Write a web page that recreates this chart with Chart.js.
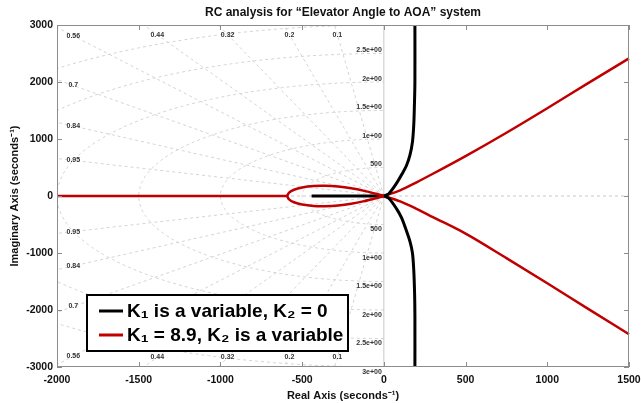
<!DOCTYPE html>
<html><head><meta charset="utf-8">
<script src="https://cdn.jsdelivr.net/npm/chart.js@4/dist/chart.umd.min.js"></script>
<style>html,body{margin:0;padding:0;background:#fff}#wrap{width:641px;height:403px;position:relative}</style>
</head><body><div id="wrap"><canvas id="c" width="641" height="403"></canvas></div>
<script>
// ---- data ----
const titleText = 'RC analysis for \u201cElevator Angle to AOA\u201d system';
const xTicks = [-2000,-1500,-1000,-500,0,500,1000,1500];
const yTicks = [-3000,-2000,-1000,0,1000,2000,3000];

// K1 is a variable, K2 = 0 (black)
const blackUpperRe = [0,30,78,110,139,160,175,183,187,190,190];
const blackUpperIm = [0,40,225,380,540,720,950,1250,1600,2000,3000];
const blackLowerRe = [0,30,78,108,135,160,175,183,188,190,190];
const blackLowerIm = [0,-40,-225,-380,-585,-800,-1000,-1300,-1700,-2100,-3000];
const blackRealRe = [-442,0];
const blackRealIm = [0,0];

// K1 = 8.9, K2 is a variable (red)
const redRealRe = [-2000,-592];
const redRealIm = [0,0];
const redLoopRe = [-592,-580,-550,-500,-430,-360,-280,-200,-120,-50,0];
const redLoopUpperIm = [0,60,110,150,175,178,165,135,90,40,0];
const redLoopLowerIm = [0,-60,-110,-150,-175,-178,-165,-135,-90,-40,0];
const redUpperRe = [0,100,200,300,500,750,1000,1250,1500];
const redUpperIm = [0,100,240,390,700,1110,1540,1980,2415];
const redLowerRe = [0,100,200,300,500,750,1000,1250,1500];
const redLowerIm = [0,-95,-225,-370,-660,-1090,-1530,-1980,-2425];

// s-grid
const dampingValues = [0.1,0.2,0.32,0.44,0.56,0.7,0.84,0.95];
const dampingLabels = ['0.1','0.2','0.32','0.44','0.56','0.7','0.84','0.95'];
const freqValues = [500,1000,1500,2000,2500,3000];
const freqLabels = ['500','1e+00','1.5e+00','2e+00','2.5e+00','3e+00'];

const legendLabels = ['K\u2081 is a variable, K\u2082 = 0','K\u2081 = 8.9, K\u2082 is a variable'];
const legendColors = ['#000000','#c00000'];

function pts(xs, ys){ return xs.map((x,i)=>({x:x,y:ys[i]})); }
function ds(xs, ys, color, w, mono){
  const d = {data:pts(xs,ys), showLine:true, borderColor:color, backgroundColor:color,
          borderWidth:w, pointRadius:0, fill:false, tension:0.3, clip:false};
  if (mono) d.cubicInterpolationMode = 'monotone';
  return d;
}

const FONT = "'Liberation Sans', Arial, sans-serif";

const sgridPlugin = {
  id:'sgrid',
  beforeDatasetsDraw(chart){
    const {ctx, chartArea:a, scales:{x, y}} = chart;
    const px = v=>x.getPixelForValue(v), py = v=>y.getPixelForValue(v);
    ctx.save();
    ctx.beginPath(); ctx.rect(a.left,a.top,a.right-a.left,a.bottom-a.top); ctx.clip();
    ctx.strokeStyle = '#d4d4d4'; ctx.lineWidth = 1; ctx.setLineDash([3,3]);
    dampingValues.forEach(z=>{
      const s = Math.sqrt(1-z*z), R = 8000;
      [1,-1].forEach(sg=>{
        ctx.beginPath(); ctx.moveTo(px(0),py(0)); ctx.lineTo(px(-z*R), py(sg*s*R)); ctx.stroke();
      });
    });
    freqValues.forEach(w=>{
      ctx.beginPath();
      for(let k=0;k<=180;k++){
        const th = (-90 + k)*Math.PI/180;
        const X = px(-w*Math.cos(th)), Y = py(w*Math.sin(th));
        if(k===0) ctx.moveTo(X,Y); else ctx.lineTo(X,Y);
      }
      ctx.stroke();
    });
    ctx.strokeStyle = '#c8c8c8';
    ctx.beginPath(); ctx.moveTo(a.left, py(0)); ctx.lineTo(a.right, py(0)); ctx.stroke();
    ctx.setLineDash([]);
    ctx.beginPath(); ctx.moveTo(px(0), a.top); ctx.lineTo(px(0), a.bottom); ctx.stroke();
    ctx.restore();
    ctx.save();
    ctx.fillStyle = '#333'; ctx.font = "bold 7px "+FONT;
    ctx.textAlign = 'center'; ctx.textBaseline = 'middle';
    dampingValues.forEach((z,i)=>{
      const s = Math.sqrt(1-z*z);
      const t = Math.min(2830/s, 1900/z);
      [1,-1].forEach(sg=>{
        ctx.fillText(dampingLabels[i], px(-z*t), py(sg*s*t));
      });
    });
    ctx.textAlign = 'right';
    freqValues.forEach((w,i)=>{
      if (w < 3000) ctx.fillText(freqLabels[i], px(0)-2, py(w)-3);
      ctx.fillText(freqLabels[i], px(0)-2, py(-w)+5);
    });
    ctx.restore();
  },
  afterDraw(chart){
    const {ctx, chartArea:a, scales:{x, y}} = chart;
    ctx.save();
    ctx.fillStyle = '#111'; ctx.font = "bold 12px "+FONT;
    ctx.textAlign = 'center'; ctx.textBaseline = 'middle';
    ctx.fillText(titleText, (a.left+a.right)/2, 13);
    ctx.strokeStyle = '#8c8c8c'; ctx.lineWidth = 1;
    ctx.strokeRect(a.left+0.5, a.top+0.5, a.right-a.left-1, a.bottom-a.top-1);
    xTicks.forEach(v=>{
      const X = Math.round(x.getPixelForValue(v))+0.5;
      ctx.beginPath(); ctx.moveTo(X,a.bottom); ctx.lineTo(X,a.bottom-5);
      ctx.moveTo(X,a.top); ctx.lineTo(X,a.top+5); ctx.stroke();
    });
    yTicks.forEach(v=>{
      const Y = Math.round(y.getPixelForValue(v))+0.5;
      ctx.beginPath(); ctx.moveTo(a.left,Y); ctx.lineTo(a.left+5,Y);
      ctx.moveTo(a.right,Y); ctx.lineTo(a.right-5,Y); ctx.stroke();
    });
    const L=87, T=295, W=261, H=56;
    ctx.fillStyle = '#fff'; ctx.fillRect(L,T,W,H);
    ctx.strokeStyle = '#000'; ctx.lineWidth = 2; ctx.strokeRect(L,T,W,H);
    ctx.font = "bold 19px "+FONT; ctx.textBaseline = 'middle'; ctx.textAlign='left';
    legendLabels.forEach((lab,i)=>{
      const yy = T + 16 + i*24;
      ctx.strokeStyle = legendColors[i]; ctx.lineWidth = 3;
      ctx.beginPath(); ctx.moveTo(L+12, yy); ctx.lineTo(L+36, yy); ctx.stroke();
      ctx.fillStyle = '#000'; ctx.fillText(lab, L+40, yy+1);
    });
    ctx.restore();
  }
};

new Chart(document.getElementById('c'), {
  type:'scatter',
  data:{datasets:[
    ds(redRealRe, redRealIm, '#c00000', 2.5),
    ds(redLoopRe, redLoopUpperIm, '#c00000', 2.5),
    ds(redLoopRe, redLoopLowerIm, '#c00000', 2.5),
    ds(blackRealRe, blackRealIm, '#000000', 3),
    ds(blackUpperRe, blackUpperIm, '#000000', 3),
    ds(blackLowerRe, blackLowerIm, '#000000', 3),
    ds(redUpperRe, redUpperIm, '#c00000', 2.5, true),
    ds(redLowerRe, redLowerIm, '#c00000', 2.5, true)
  ]},
  options:{
    responsive:false, animation:false, devicePixelRatio:1,
    layout:{padding:{top:25,right:0,left:0,bottom:0}},
    plugins:{ legend:{display:false}, tooltip:{enabled:false}, title:{display:false} },
    scales:{
      x:{type:'linear', min:-2000, max:1500,
        afterBuildTicks(s){ s.ticks = xTicks.map(v=>({value:v})); },
        afterFit(s){ s.height = 36; s.paddingRight = 12; s.paddingLeft = 0; },
        grid:{display:false, drawTicks:false}, border:{display:false},
        ticks:{color:'#111', font:{family:FONT,size:10.5,weight:'bold'}, padding:7, maxRotation:0, autoSkip:false,
          callback:v=>String(v)},
        title:{display:true, text:'Real Axis (seconds\u207b\u00b9)', color:'#111',
          font:{family:FONT,size:11,weight:'bold'}, padding:{top:0,bottom:0}}
      },
      y:{type:'linear', min:-3000, max:3000,
        afterBuildTicks(s){ s.ticks = yTicks.map(v=>({value:v})); },
        afterFit(s){ s.width = 57; s.paddingTop = 0; s.paddingBottom = 0; },
        grid:{display:false, drawTicks:false}, border:{display:false},
        ticks:{color:'#111', font:{family:FONT,size:10.5,weight:'bold'}, padding:4, autoSkip:false,
          callback:v=>String(v)},
        title:{display:true, text:'Imaginary Axis (seconds\u207b\u00b9)', color:'#111',
          font:{family:FONT,size:11,weight:'bold'}, padding:{top:8,bottom:0}}
      }
    }
  },
  plugins:[sgridPlugin]
});
</script></body></html>
